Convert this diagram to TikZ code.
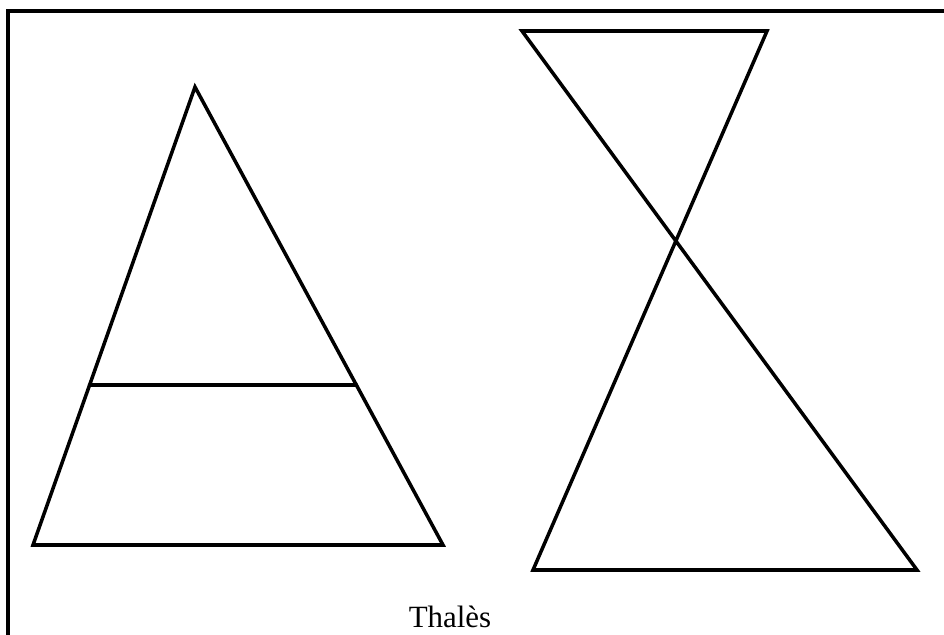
\documentclass[tikz,border=0pt]{standalone}
\usepackage{fontspec}
\setmainfont{Liberation Serif}
\usetikzlibrary{calc}
\tikzset{
  tline/.style ={line width=2.5pt, black, line cap=round, line join=miter},
  tframe/.style={line width=2.5pt, black},
  tlabel/.style={font=\fontsize{22}{26}\selectfont, inner sep=0pt, anchor=base},
}

\begin{document}
\begin{tikzpicture}[x=0.025cm, y=-0.025cm]
  \useasboundingbox (0,0) rectangle (944,635);
  % frame (top and left edges only)
  \coordinate (fa) at (8,635);
  \coordinate (fb) at (8,11);
  \coordinate (fc) at (944,11);
  \draw[tframe] (fa) -- (fb) -- (fc);
  % first triangle with parallel line
  \coordinate (A)  at (195,87);
  \coordinate (B)  at (33,545);
  \coordinate (C)  at (443,545);
  \coordinate (M)  at ($(A)!0.6507!(B)$);
  \coordinate (N)  at ($(A)!0.6507!(C)$);
  \draw[tline] (A) -- (B) -- (C) -- cycle;
  \draw[tline] (M) -- (N);
  % second figure, crossed triangles
  \coordinate (P)  at (522,31);
  \coordinate (Q)  at (767,31);
  \coordinate (R)  at (533,570);
  \coordinate (S)  at (917,570);
  \draw[tline] (P) -- (Q) -- (R) -- (S) -- cycle;
  \node[tlabel] (thales) at (450,627) {Thalès};
\end{tikzpicture}
\end{document}
